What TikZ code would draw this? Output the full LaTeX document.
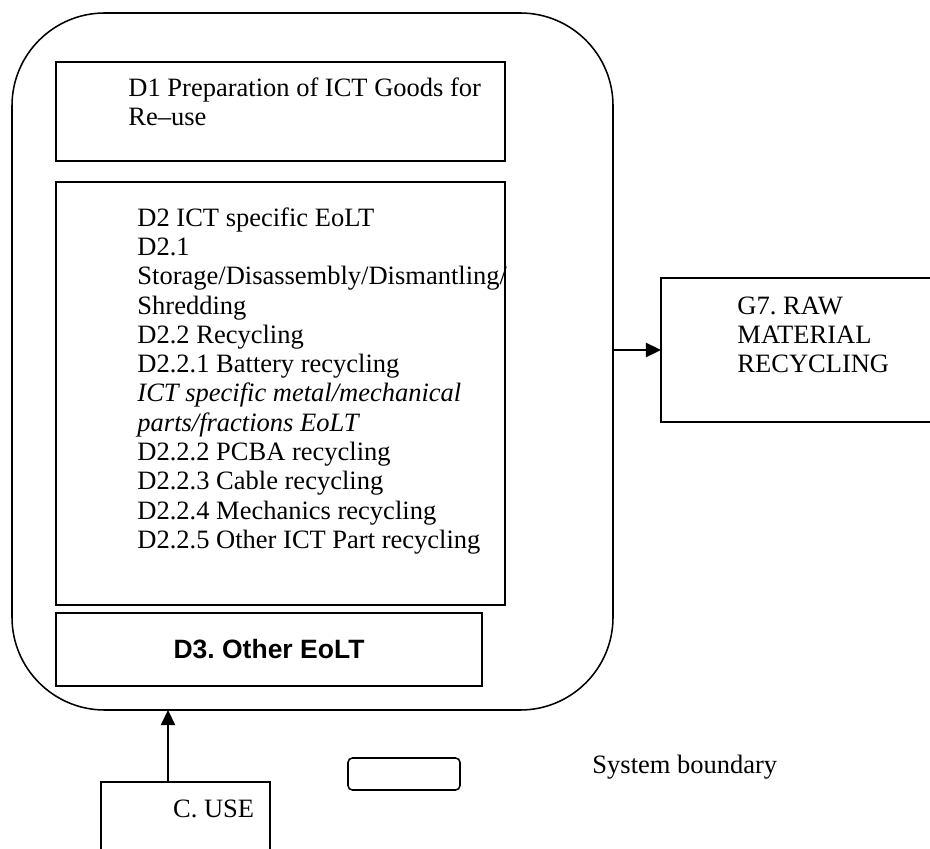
\documentclass[tikz,border=0pt]{standalone}
\usepackage{fontspec}
\setmainfont{Liberation Serif}
\newfontfamily\arialfont{Liberation Sans}
\frenchspacing
\usetikzlibrary{arrows.meta}
\usetikzlibrary{fit}

\tikzset{
    box/.style={draw, line width=0.85pt, inner sep=0pt, outer sep=0pt},
    lbl/.style={inner sep=0pt, anchor=base west, align=left, font=\fontsize{12}{13.27}\selectfont},
    arr/.style={line width=0.8pt, -{Triangle[length=6.8pt, width=6.4pt]}},
}

\begin{document}
\begin{tikzpicture}[x=0.4528pt, y=-0.4528pt]
    \useasboundingbox (0,0) rectangle (930,849);

    % System boundary
    \node[box, line width=0.7pt, rounded corners=42pt, fit={(12,13) (613,710)}] (sb) {};

    % D boxes inside the boundary (text placed by its last baseline)
    \node[box, fit={(56,62) (505,161)}] (d1) {};
    \node[lbl] (d1txt) at (128,126) {D1 Preparation of ICT Goods for\\Re–use};

    \node[box, fit={(56,182) (505,605)}] (d2) {};
    \node[lbl] (d2txt) at (137,548.5) {D2 ICT specific EoLT\\D2.1\\Storage/Disassembly/Dismantling/\\Shredding\\D2.2 Recycling\\D2.2.1 Battery recycling\\\textit{ICT specific metal/mechanical}\\\textit{parts/fractions EoLT}\\D2.2.2 PCBA recycling\\D2.2.3 Cable recycling\\D2.2.4 Mechanics recycling\\D2.2.5 Other ICT Part recycling};

    \node[box, fit={(56,613) (482,686)}] (d3) {};
    \node[inner sep=0pt, font=\arialfont\bfseries\fontsize{12}{13.27}\selectfont] (d3txt) at (d3.center) {D3. Other EoLT};

    % Raw material recycling (cut at the right edge)
    \node[box, fit={(661,278) (980,422)}] (g7) {};
    \node[lbl] (g7txt) at (737,373) {G7. RAW\\MATERIAL\\RECYCLING};
    \draw[arr] (sb.east |- g7.west) -- (g7.west);

    % Use phase (cut at the bottom edge)
    \node[box, fit={(101,782) (270,900)}] (use) {};
    \node[lbl] (usetxt) at (172.7,817) {C. USE};
    \coordinate (usein) at (168,782);
    \draw[arr] (usein) -- (usein |- sb.south);

    % Legend
    \node[box, line width=0.7pt, rounded corners=2pt, fit={(348,758) (460,790)}] (sbkey) {};
    \node[lbl] (sbkeytxt) at (592,773) {System boundary};
\end{tikzpicture}
\end{document}
